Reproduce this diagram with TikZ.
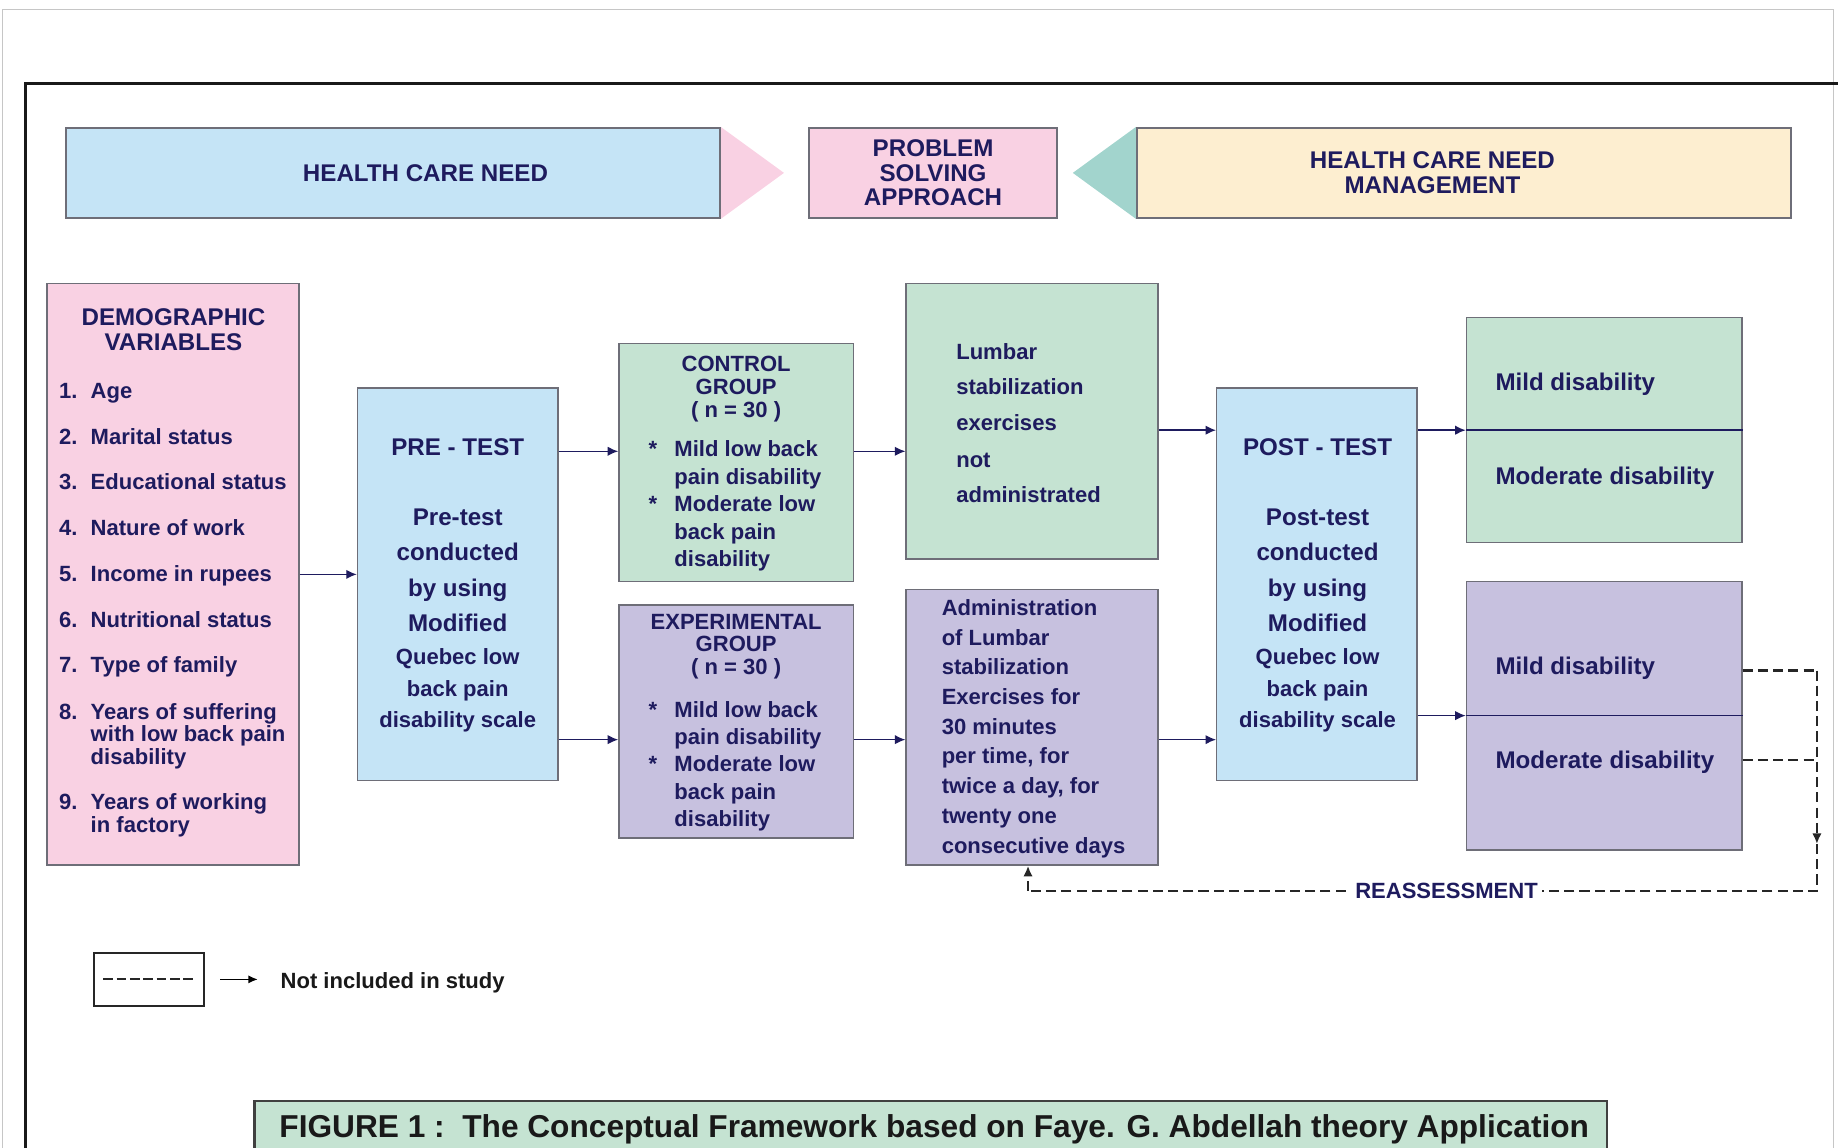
\documentclass[tikz,border=0pt]{standalone}
\usepackage{fontspec}
\setmainfont{Liberation Sans}
\usetikzlibrary{arrows.meta,backgrounds}
\definecolor{cblue}{HTML}{C5E4F6}
\definecolor{cpink}{HTML}{F9D1E3}
\definecolor{cteal}{HTML}{A2D4CD}
\definecolor{ccream}{HTML}{FDEED0}
\definecolor{cgreen}{HTML}{C5E3D2}
\definecolor{cpurple}{HTML}{C7C1DF}
\definecolor{navy}{HTML}{1E1B5E}
\definecolor{cborder}{HTML}{6E6E78}
\begin{document}
\begin{tikzpicture}[x=0.5pt,y=-0.5pt,
  box/.style={draw=cborder, line width=0.6pt, rectangle, inner sep=0pt},
  tt/.style={text=navy, inner sep=0pt, font=\bfseries\fontsize{10.3}{10.5}\selectfont},
  tb/.style={text=navy, inner sep=0pt, font=\bfseries\fontsize{9.4}{9.8}\selectfont},
  arr/.style={draw=navy, line width=0.6pt, -{Latex[length=4.5pt,width=4pt]}},
  dsh/.style={draw=black!85, line width=0.9pt, dash pattern=on 4.3pt off 2.2pt},
]
\useasboundingbox (0,0) rectangle (1568,979);
% frames
\draw[gray!45, line width=0.6pt] (2,995) -- (2,8) -- (1564,8) -- (1564,995);
\draw[black!90, line width=1.3pt] (22,995) -- (22,71) -- (1575,71);

% top row
\node[box, line width=0.8pt, fill=cblue, minimum width=279pt, minimum height=38.5pt] (hcn) at (335,147.5) {};
\node[tt] (hcnT) at (363,147.5) {HEALTH CARE NEED};
\node[box, line width=0.8pt, fill=cpink, minimum width=106pt, minimum height=38.5pt, tt, align=center] (psa) at (796,147.5) {PROBLEM\\SOLVING\\APPROACH};
\node[box, line width=0.8pt, fill=ccream, minimum width=279pt, minimum height=38.5pt] (hcnm) at (1249,147.5) {};
\node[tt, align=center] (hcnmT) at (1222,147.5) {HEALTH CARE NEED\\MANAGEMENT};
\begin{scope}[on background layer]
\fill[cpink] (hcn.north east) -- ([xshift=27pt]hcn.east) -- (hcn.south east) -- cycle;
\fill[cteal] (hcnm.north west) -- ([xshift=-27pt]hcnm.west) -- (hcnm.south west) -- cycle;
\end{scope}

% main boxes
\node[box, fill=cpink, minimum width=107.5pt, minimum height=248pt] (demo) at (147.5,490) {};
\node[box, fill=cblue, minimum width=85.5pt, minimum height=167.5pt] (pre) at (390.5,498.5) {};
\node[box, fill=cgreen, minimum width=100pt, minimum height=101.5pt] (ctrl) at (628,394.5) {};
\node[box, fill=cpurple, minimum width=100pt, minimum height=99.5pt] (expg) at (628,615.5) {};
\node[box, fill=cgreen, minimum width=107.5pt, minimum height=117.5pt] (lumb) at (880.5,359.5) {};
\node[box, fill=cpurple, minimum width=107.5pt, minimum height=117.5pt] (admin) at (880.5,620.5) {};
\node[box, fill=cblue, minimum width=85.5pt, minimum height=167.5pt] (post) at (1123.5,498.5) {};
\node[box, fill=cgreen, minimum width=117.5pt, minimum height=96pt] (resG) at (1368.5,367) {};
\node[box, fill=cpurple, minimum width=117.5pt, minimum height=114.5pt] (resP) at (1368.5,610.5) {};

% demographic text
\node[tt, anchor=base] (demoT1) at (148,277.5) {DEMOGRAPHIC};
\node[tt, anchor=base] (demoT2) at (148,299) {VARIABLES};
\foreach \n/\y/\t in {1/333/Age, 2/372/Marital status, 3/411/Educational status, 4/450/Nature of work, 5/489/Income in rupees, 6/528/Nutritional status, 7/567/Type of family, 8/606.5/Years of suffering, 9/684/Years of working} {
  \node[tb, anchor=base west] (dn\n) at (50,\y+7) {\n.};
  \node[tb, anchor=base west] (dt\n) at (77,\y+7) {\t};
}
\node[tb, anchor=base west] (dt8b) at (77,632.7) {with low back pain};
\node[tb, anchor=base west] (dt8c) at (77,652.3) {disability};
\node[tb, anchor=base west] (dt9b) at (77,710.6) {in factory};

% pre-test / post-test text
\foreach \x/\nm/\h/\f in {390.5/pre/PRE - TEST/Pre-test, 1124/post/POST - TEST/Post-test} {
  \node[tt, anchor=base] (\nm H) at (\x,388.5) {\h};
  \node[tt, anchor=base] (\nm L1) at (\x,448.5) {\f};
  \node[tt, anchor=base] (\nm L2) at (\x,478.5) {conducted};
  \node[tt, anchor=base] (\nm L3) at (\x,508.8) {by using};
  \node[tt, anchor=base] (\nm L4) at (\x,538.5) {Modified};
  \node[tb, anchor=base] (\nm L5) at (\x,567) {Quebec low};
  \node[tb, anchor=base] (\nm L6) at (\x,594) {back pain};
  \node[tb, anchor=base] (\nm L7) at (\x,621) {disability scale};
}

% control group
\node[tb, anchor=base] (ctrlT1) at (628,317) {CONTROL};
\node[tb, anchor=base] (ctrlT2) at (628,336.5) {GROUP};
\node[tb, anchor=base] (ctrlT3) at (628,356) {( n = 30 )};
\node[tb, anchor=base west] (ctrlS1) at (553,389.8) {*};
\node[tb, anchor=base west] (ctrlS2) at (553,436.4) {*};
\foreach \i/\y/\t in {1/382.8/Mild low back, 2/406/pain disability, 3/429.4/Moderate low, 4/453/back pain, 5/476/disability} {
  \node[tb, anchor=base west] (ctrlL\i) at (575,\y+7) {\t};
}
% experimental group
\node[tb, anchor=base] (expT1) at (628,537) {EXPERIMENTAL};
\node[tb, anchor=base] (expT2) at (628,556) {GROUP};
\node[tb, anchor=base] (expT3) at (628,575.5) {( n = 30 )};
\node[tb, anchor=base west] (expS1) at (553,611.8) {*};
\node[tb, anchor=base west] (expS2) at (553,658.3) {*};
\foreach \i/\y/\t in {1/604.8/Mild low back, 2/628.4/pain disability, 3/651.3/Moderate low, 4/675/back pain, 5/698.2/disability} {
  \node[tb, anchor=base west] (expL\i) at (575,\y+7) {\t};
}

% lumbar box
\foreach \i/\y/\t in {1/299.4/Lumbar, 2/329.8/stabilization, 3/360.5/exercises, 4/391.6/not, 5/422/administrated} {
  \node[tb, anchor=base west] (lumbL\i) at (815.4,\y+7) {\t};
}
% administration box
\foreach \i/\y/\t in {1/517.7/Administration, 2/543.4/of Lumbar, 3/568.7/stabilization, 4/594/Exercises for, 5/619.3/30 minutes, 6/644.6/{per time, for}, 7/669.9/{twice a day, for}, 8/695.8/twenty one, 9/721.1/consecutive days} {
  \node[tb, anchor=base west] (adminL\i) at (803,\y+7) {\t};
}

% result boxes
\draw[navy, line width=0.6pt] (resG.west) -- (resG.east);
\draw[navy, line width=0.6pt] (resP.west) -- (resP.east);
\node[tt, anchor=base west] (rg1) at (1275.4,333.2) {Mild disability};
\node[tt, anchor=base west] (rg2) at (1275.4,413) {Moderate disability};
\node[tt, anchor=base west] (rp1) at (1275.4,575.1) {Mild disability};
\node[tt, anchor=base west] (rp2) at (1275.4,655.2) {Moderate disability};

% connectors
\draw[arr] (demo.east) -- (demo.east -| pre.west);
\draw[arr] (pre.east |- 0,385) -- (ctrl.west |- 0,385);
\draw[arr] (pre.east |- 0,631) -- (expg.west |- 0,631);
\draw[arr] (ctrl.east |- 0,385) -- (lumb.west |- 0,385);
\draw[arr] (expg.east |- 0,631) -- (admin.west |- 0,631);
\draw[arr] (lumb.east |- 0,367) -- (post.west |- 0,367);
\draw[arr] (admin.east |- 0,631) -- (post.west |- 0,631);
\draw[arr] (post.east |- resG.west) -- (resG.west);
\draw[arr] (post.east |- resP.west) -- (resP.west);

% reassessment loop
\coordinate (rA) at (1550,572);
\coordinate (rM) at (1550,648.5);
\coordinate (rT) at (1550,720);
\coordinate (rB) at (1550,760);
\coordinate (rC) at (877,760);
\draw[dsh] (resP.east |- rA) -- (rA);
\draw[dsh] (resP.east |- rM) -- (rM);
\draw[dsh, -{Latex[length=4.5pt,width=4pt]}] (rA) -- (rT);
\draw[dsh] (rT) -- (rB) -- (rC);
\draw[dsh, -{Latex[length=4.5pt,width=4pt]}] (rC) -- (rC |- admin.south);
\node[tb, fill=white, inner xsep=2pt, inner ysep=1pt] (reas) at (1234,760) {REASSESSMENT};

% legend
\node[draw=black!85, line width=0.9pt, minimum width=47pt, minimum height=22.5pt, inner sep=0pt] (leg) at (127,835.5) {};
\draw[black!85, line width=0.8pt, dash pattern=on 4.1pt off 1.6pt] ([xshift=4.5pt]leg.west) -- ([xshift=-4pt]leg.east);
\draw[black, line width=0.6pt, -{Latex[length=4pt,width=3.5pt]}] ([xshift=6.5pt]leg.east) -- ([xshift=22.5pt]leg.east);
\node[anchor=base west, inner sep=0pt, text=black!90, font=\bfseries\fontsize{9.4}{11}\selectfont] (legT) at (239,843) {Not included in study};

% caption
\node[draw=black!75, line width=1pt, fill=cgreen, minimum width=577pt, minimum height=35pt, inner sep=0pt, anchor=north west] (cap) at (216,938) {};
\node[anchor=base west, inner sep=0pt, text=black!90, font=\bfseries\fontsize{13.5}{15}\selectfont] (capT) at (238,970) {FIGURE 1 :\ \ The Conceptual Framework based on Faye. G. Abdellah theory Application};
\end{tikzpicture}
\end{document}
